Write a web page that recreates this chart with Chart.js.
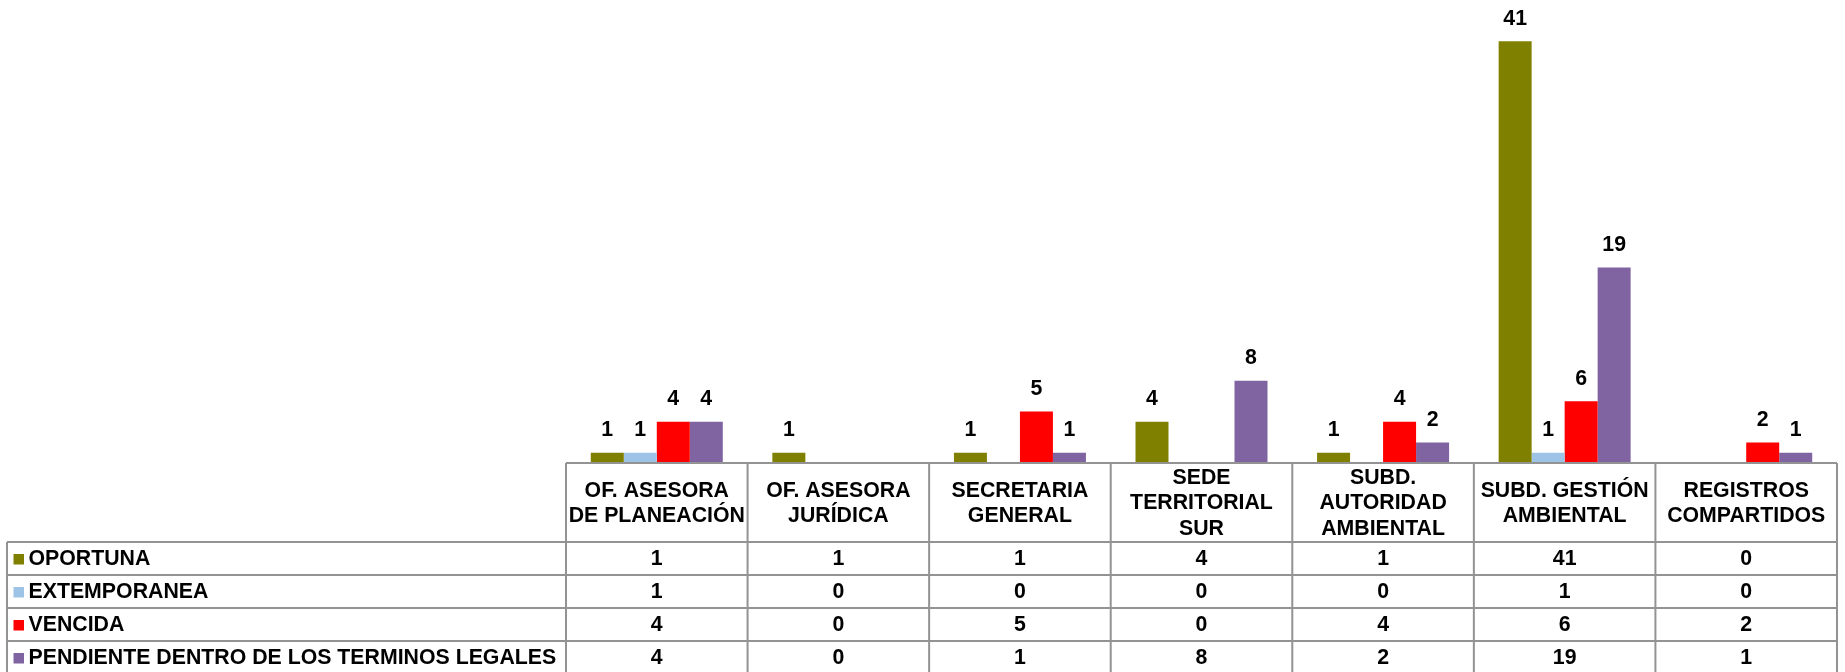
<!DOCTYPE html>
<html>
<head>
<meta charset="utf-8">
<script src="https://cdn.jsdelivr.net/npm/chart.js@4/dist/chart.umd.min.js"></script>
<style>
html,body{margin:0;padding:0;background:#fff;}
#wrap{width:1845px;height:672px;position:relative;}
</style>
</head>
<body>
<div id="wrap"><canvas id="c" width="1845" height="672"></canvas></div>
<script>
const categories = [
  ["OF. ASESORA", "DE PLANEACIÓN"],
  ["OF. ASESORA", "JURÍDICA"],
  ["SECRETARIA", "GENERAL"],
  ["SEDE", "TERRITORIAL", "SUR"],
  ["SUBD.", "AUTORIDAD", "AMBIENTAL"],
  ["SUBD. GESTIÓN", "AMBIENTAL"],
  ["REGISTROS", "COMPARTIDOS"]
];
const seriesNames = ["OPORTUNA", "EXTEMPORANEA", "VENCIDA", "PENDIENTE DENTRO DE LOS TERMINOS LEGALES"];
const oportuna     = [1, 1, 1, 4, 1, 41, 0];
const extemporanea = [1, 0, 0, 0, 0, 1, 0];
const vencida      = [4, 0, 5, 0, 4, 6, 2];
const pendiente    = [4, 0, 1, 8, 2, 19, 1];
const seriesColors = ["#808000", "#9DC3E6", "#FF0000", "#8064A2"];
const yMax = 45;

const FONT = "bold 21.3px 'Liberation Sans', Arial, sans-serif";
const seriesValues = [oportuna, extemporanea, vencida, pendiente];

const labelPlugin = {
  id: 'barLabels',
  afterDatasetsDraw(chart) {
    const ctx = chart.ctx;
    ctx.save();
    ctx.font = FONT;
    ctx.fillStyle = '#000';
    ctx.textAlign = 'center';
    ctx.textBaseline = 'alphabetic';
    chart.data.datasets.forEach((ds, di) => {
      const meta = chart.getDatasetMeta(di);
      meta.data.forEach((bar, i) => {
        const v = ds.data[i];
        if (v > 0) ctx.fillText(String(v), bar.x, bar.y - 16.5);
      });
    });
    ctx.restore();
  }
};

const tablePlugin = {
  id: 'dataTable',
  afterDraw(chart) {
    const ctx = chart.ctx;
    const xs = chart.scales.x;
    const area = chart.chartArea;
    const n = categories.length;
    const left = area.left, right = area.right;
    const w = (right - left) / n;
    const top = area.bottom;
    const headerBottom = top + 79;
    const rowH = 33;
    const legendLeft = 7;
    const H = chart.height;
    ctx.save();
    ctx.strokeStyle = '#939393';
    ctx.lineWidth = 2;
    ctx.beginPath();
    ctx.moveTo(left, top); ctx.lineTo(right, top);
    for (let i = 0; i <= n; i++) {
      const x = left + i * w;
      ctx.moveTo(x, top); ctx.lineTo(x, H + 5);
    }
    ctx.moveTo(legendLeft, headerBottom); ctx.lineTo(legendLeft, H + 5);
    for (let r = 0; r <= seriesNames.length; r++) {
      const y = headerBottom + r * rowH;
      ctx.moveTo(legendLeft, y); ctx.lineTo(right, y);
    }
    ctx.stroke();

    ctx.font = FONT;
    ctx.fillStyle = '#000';
    ctx.textAlign = 'center';
    ctx.textBaseline = 'middle';
    const lineH = 25.3;
    categories.forEach((lines, i) => {
      const cx = xs.getPixelForValue(i);
      const cy = (top + headerBottom) / 2 + 1;
      const start = cy - (lines.length - 1) * lineH / 2;
      lines.forEach((t, k) => ctx.fillText(t, cx, start + k * lineH));
    });
    seriesValues.forEach((vals, r) => {
      const cy = headerBottom + r * rowH + rowH / 2 + 1;
      vals.forEach((v, i) => {
        ctx.fillText(String(v), xs.getPixelForValue(i), cy);
      });
      ctx.fillStyle = seriesColors[r];
      ctx.fillRect(13.5, cy - 5.5, 10.5, 10.5);
      ctx.fillStyle = '#000';
      ctx.textAlign = 'left';
      ctx.fillText(seriesNames[r], 28.5, cy);
      ctx.textAlign = 'center';
    });
    ctx.restore();
  }
};

new Chart(document.getElementById('c'), {
  type: 'bar',
  data: {
    labels: categories,
    datasets: seriesNames.map((name, i) => ({
      label: name,
      data: seriesValues[i],
      backgroundColor: seriesColors[i],
      borderWidth: 0,
      categoryPercentage: 0.727,
      barPercentage: 1.0
    }))
  },
  options: {
    responsive: false,
    animation: false,
    layout: { padding: { left: 566, right: 8, top: 0, bottom: 209 } },
    plugins: { legend: { display: false }, tooltip: { enabled: false } },
    scales: {
      x: { display: false },
      y: { display: false, min: 0, max: yMax }
    }
  },
  plugins: [labelPlugin, tablePlugin]
});
</script>
</body>
</html>
